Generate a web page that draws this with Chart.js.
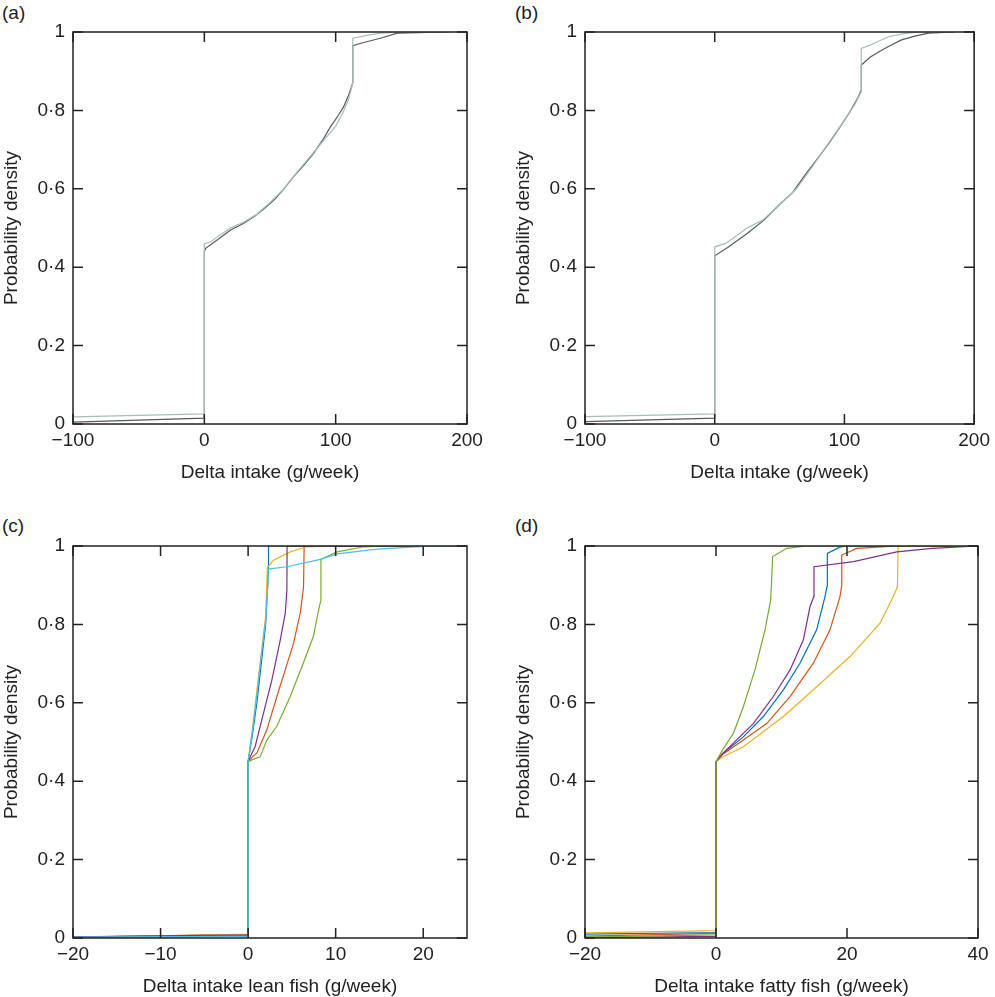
<!DOCTYPE html>
<html>
<head>
<meta charset="utf-8">
<script src="https://cdn.jsdelivr.net/npm/chart.js@4.4.1/dist/chart.umd.min.js"></script>
<style>
  body { margin: 0; background: #fff; overflow: hidden; }
  .panel { position: absolute; }
  .tag { position: absolute; font: 19px "Liberation Sans", Arial, sans-serif; color: #222; }
</style>
</head>
<body>
<div class="tag" style="left:2px;top:2px;">(a)</div>
<div class="tag" style="left:515px;top:2px;">(b)</div>
<div class="tag" style="left:2px;top:515px;">(c)</div>
<div class="tag" style="left:515px;top:515px;">(d)</div>
<div class="panel" style="left:0;top:0;width:497px;height:484px;"><canvas id="chartA"></canvas></div>
<div class="panel" style="left:512px;top:0;width:483px;height:484px;"><canvas id="chartB"></canvas></div>
<div class="panel" style="left:0;top:514px;width:497px;height:484px;"><canvas id="chartC"></canvas></div>
<div class="panel" style="left:512px;top:514px;width:483px;height:484px;"><canvas id="chartD"></canvas></div>
<script>
// tick values
var yTicks = [0, 0.2, 0.4, 0.6, 0.8, 1];
var xTicksAB = [-100, 0, 100, 200];
var xTicksC = [-20, -10, 0, 10, 20];
var xTicksD = [-20, 0, 20, 40];

// panel (a) - [delta intake, cumulative probability]
var aDark = [[-100, 0.005], [0, 0.015], [0, 0.44], [1, 0.448], [10, 0.47], [20, 0.495], [30, 0.512], [38, 0.529], [45, 0.548], [53, 0.571], [60, 0.597], [68, 0.631], [76, 0.661], [83, 0.69], [90, 0.724], [96, 0.758], [102, 0.787], [106, 0.809], [110, 0.84], [113, 0.87], [113, 0.965], [120, 0.972], [134, 0.984], [147, 0.997], [170, 0.999], [185, 1]];
var aLight = [[-100, 0.018], [0, 0.026], [0, 0.46], [5, 0.465], [10, 0.478], [20, 0.5], [30, 0.515], [40, 0.535], [50, 0.565], [60, 0.598], [70, 0.64], [80, 0.68], [90, 0.72], [100, 0.76], [105, 0.79], [110, 0.83], [113, 0.87], [113, 0.984], [125, 0.992], [135, 0.997], [150, 1], [190, 1]];

// panel (b)
var bDark = [[-100, 0.006], [0, 0.015], [0, 0.429], [10, 0.45], [25, 0.486], [38, 0.52], [50, 0.56], [60, 0.59], [70, 0.637], [80, 0.68], [88, 0.716], [96, 0.755], [104, 0.795], [110, 0.83], [113, 0.852], [113, 0.916], [120, 0.936], [127, 0.95], [135, 0.965], [144, 0.98], [155, 0.99], [165, 0.997], [185, 1]];
var bLight = [[-100, 0.019], [0, 0.026], [0, 0.452], [8, 0.46], [12, 0.469], [25, 0.5], [37, 0.52], [50, 0.56], [63, 0.6], [75, 0.655], [88, 0.718], [100, 0.775], [108, 0.815], [113, 0.848], [113, 0.958], [120, 0.967], [134, 0.988], [145, 0.995], [157, 1], [185, 1]];

// panel (c) - lean fish
var cBlue = [[-20, 0.003], [0, 0.006], [0, 0.45], [0.5, 0.52], [1, 0.6], [1.5, 0.7], [2, 0.8], [2.25, 0.905], [2.33, 0.95], [2.33, 1], [25, 1]];
var cRed = [[-20, 0.002], [0, 0.009], [0, 0.45], [0.5, 0.462], [1, 0.472], [2.14, 0.531], [3.28, 0.616], [4.24, 0.684], [5.19, 0.752], [5.95, 0.828], [6.33, 0.896], [6.4, 1], [25, 1]];
var cYellow = [[-20, 0.001], [0, 0.01], [0, 0.45], [0.5, 0.535], [1, 0.63], [1.5, 0.725], [2, 0.82], [2.2, 0.945], [2.9, 0.964], [4.8, 0.985], [6.7, 0.998], [9.8, 1], [25, 1]];
var cPurple = [[-20, 0.003], [0, 0.008], [0, 0.45], [0.4, 0.47], [0.8, 0.488], [1.75, 0.573], [2.71, 0.658], [3.67, 0.76], [4.24, 0.828], [4.43, 0.888], [4.45, 1], [25, 1]];
var cGreen = [[-20, 0.001], [0, 0.005], [0, 0.45], [0.5, 0.455], [1.37, 0.462], [2.14, 0.505], [3.28, 0.54], [4.81, 0.616], [6.3, 0.701], [7.45, 0.769], [8.13, 0.845], [8.32, 0.862], [8.32, 0.966], [10.16, 0.985], [13.2, 0.998], [15.9, 1], [25, 1]];
var cCyan = [[-20, 0.002], [0, 0.004], [0, 0.45], [0.5, 0.53], [1, 0.62], [1.5, 0.72], [2, 0.81], [2.25, 0.9], [2.3, 0.941], [4.43, 0.947], [8.25, 0.966], [10.2, 0.98], [14.7, 0.992], [20.1, 0.999], [23.7, 1], [25, 1]];

// panel (d) - fatty fish
var dBlue = [[-20, 0.01], [0, 0.014], [0, 0.45], [1, 0.47], [4.17, 0.513], [7.23, 0.565], [10.28, 0.633], [12.82, 0.701], [15.37, 0.786], [16.64, 0.871], [17.0, 0.9], [17.0, 0.981], [18.9, 0.997], [20, 1], [40, 1]];
var dRed = [[-20, 0.005], [0, 0.012], [0, 0.45], [1, 0.468], [4.17, 0.505], [7.74, 0.547], [11.3, 0.616], [14.86, 0.701], [17.4, 0.786], [18.93, 0.871], [19.2, 0.9], [19.2, 0.977], [21.5, 0.994], [27.7, 1], [40, 1]];
var dYellow = [[-20, 0.013], [0, 0.019], [0, 0.45], [1, 0.462], [4.17, 0.488], [10.3, 0.565], [15.37, 0.641], [20.46, 0.718], [25.04, 0.803], [27.07, 0.871], [27.7, 0.896], [27.8, 1], [40, 1]];
var dPurple = [[-20, 0.001], [0, 0.004], [0, 0.45], [1, 0.47], [2.65, 0.497], [5.7, 0.547], [8.75, 0.616], [11.3, 0.684], [13.33, 0.76], [14.35, 0.845], [14.9, 0.87], [14.96, 0.947], [21, 0.96], [27.6, 0.985], [33, 0.994], [40, 1]];
var dGreen = [[-20, 0.002], [0, 0.008], [0, 0.45], [1, 0.48], [2.65, 0.522], [4.17, 0.59], [5.95, 0.684], [7.48, 0.786], [8.35, 0.862], [8.65, 0.973], [10.8, 0.994], [13.8, 1], [40, 1]];

Chart.defaults.font.family = '"Liberation Sans", Arial, sans-serif';
Chart.defaults.font.size = 19;
Chart.defaults.color = '#222';

// box round the plot with the ticks pointing inwards on all four sides
var frameTicks = {
    id: 'frameTicks',
    afterDraw: function (chart) {
        var ctx = chart.ctx;
        var a = chart.chartArea;
        var xs = chart.scales.x;
        var ys = chart.scales.y;
        ctx.save();
        ctx.strokeStyle = '#222';
        ctx.lineWidth = 1.5;
        ctx.strokeRect(a.left, a.top, a.right - a.left, a.bottom - a.top);
        ctx.beginPath();
        xs.ticks.forEach(function (t) {
            var px = xs.getPixelForValue(t.value);
            ctx.moveTo(px, a.bottom);
            ctx.lineTo(px, a.bottom - 10);
            ctx.moveTo(px, a.top);
            ctx.lineTo(px, a.top + 10);
        });
        ys.ticks.forEach(function (t) {
            var py = ys.getPixelForValue(t.value);
            ctx.moveTo(a.left, py);
            ctx.lineTo(a.left + 10, py);
            ctx.moveTo(a.right, py);
            ctx.lineTo(a.right - 10, py);
        });
        ctx.stroke();
        ctx.restore();
    }
};

function fmt(v) {
    var s = String(Math.round(v * 10) / 10).replace('.', '\u00b7');
    return v < 0 ? '\u2212' + s.slice(1) : s;
}

function toPoints(arr) {
    return arr.map(function (p) {
        return { x: p[0], y: p[1] };
    });
}

// order: lower number is painted on top
function line(arr, color, order) {
    return {
        data: toPoints(arr),
        borderColor: color,
        borderWidth: 1.2,
        pointRadius: 0,
        tension: 0,
        fill: false,
        order: order
    };
}

function buildPanel(id, series, xMin, xMax, xTicks, xTitle, padRight) {
    new Chart(document.getElementById(id), {
        type: 'line',
        data: { datasets: series },
        plugins: [frameTicks],
        options: {
            responsive: true,
            maintainAspectRatio: false,
            animation: false,
            layout: { padding: { top: 32, right: padRight, left: 0, bottom: 0 } },
            plugins: { legend: { display: false }, tooltip: { enabled: false } },
            scales: {
                x: {
                    type: 'linear',
                    min: xMin,
                    max: xMax,
                    grid: { display: false, drawTicks: false },
                    border: { display: false },
                    afterBuildTicks: function (s) {
                        s.ticks = xTicks.map(function (v) { return { value: v }; });
                    },
                    afterFit: function (s) { s.height = 60; },
                    ticks: { padding: 5, maxRotation: 0, autoSkip: false, callback: function (v) { return fmt(v); } },
                    title: { display: true, text: xTitle, padding: 0 }
                },
                y: {
                    min: 0,
                    max: 1,
                    grid: { display: false, drawTicks: false },
                    border: { display: false },
                    afterBuildTicks: function (s) {
                        s.ticks = yTicks.map(function (v) { return { value: v }; });
                    },
                    afterFit: function (s) { s.width = 73; },
                    ticks: { padding: 8, callback: function (v) { return fmt(v); } },
                    title: { display: true, text: 'Probability density', padding: 0 }
                }
            }
        }
    });
}

buildPanel('chartA', [line(aDark, '#5a5a5a', 2), line(aLight, '#a9bcbc', 1)], -100, 200, xTicksAB, 'Delta intake (g/week)', 30);
buildPanel('chartB', [line(bDark, '#5a5a5a', 2), line(bLight, '#a9bcbc', 1)], -100, 200, xTicksAB, 'Delta intake (g/week)', 17);
buildPanel('chartC', [line(cBlue, '#0072BD', 6), line(cRed, '#D95319', 5), line(cYellow, '#EDB120', 4), line(cPurple, '#7E2F8E', 3), line(cGreen, '#77AC30', 2), line(cCyan, '#4DBEEE', 1)], -20, 25, xTicksC, 'Delta intake lean fish (g/week)', 30);
buildPanel('chartD', [line(dBlue, '#0072BD', 5), line(dRed, '#D95319', 4), line(dYellow, '#EDB120', 3), line(dPurple, '#7E2F8E', 2), line(dGreen, '#77AC30', 1)], -20, 40, xTicksD, 'Delta intake fatty fish (g/week)', 17);
</script>
</body>
</html>
